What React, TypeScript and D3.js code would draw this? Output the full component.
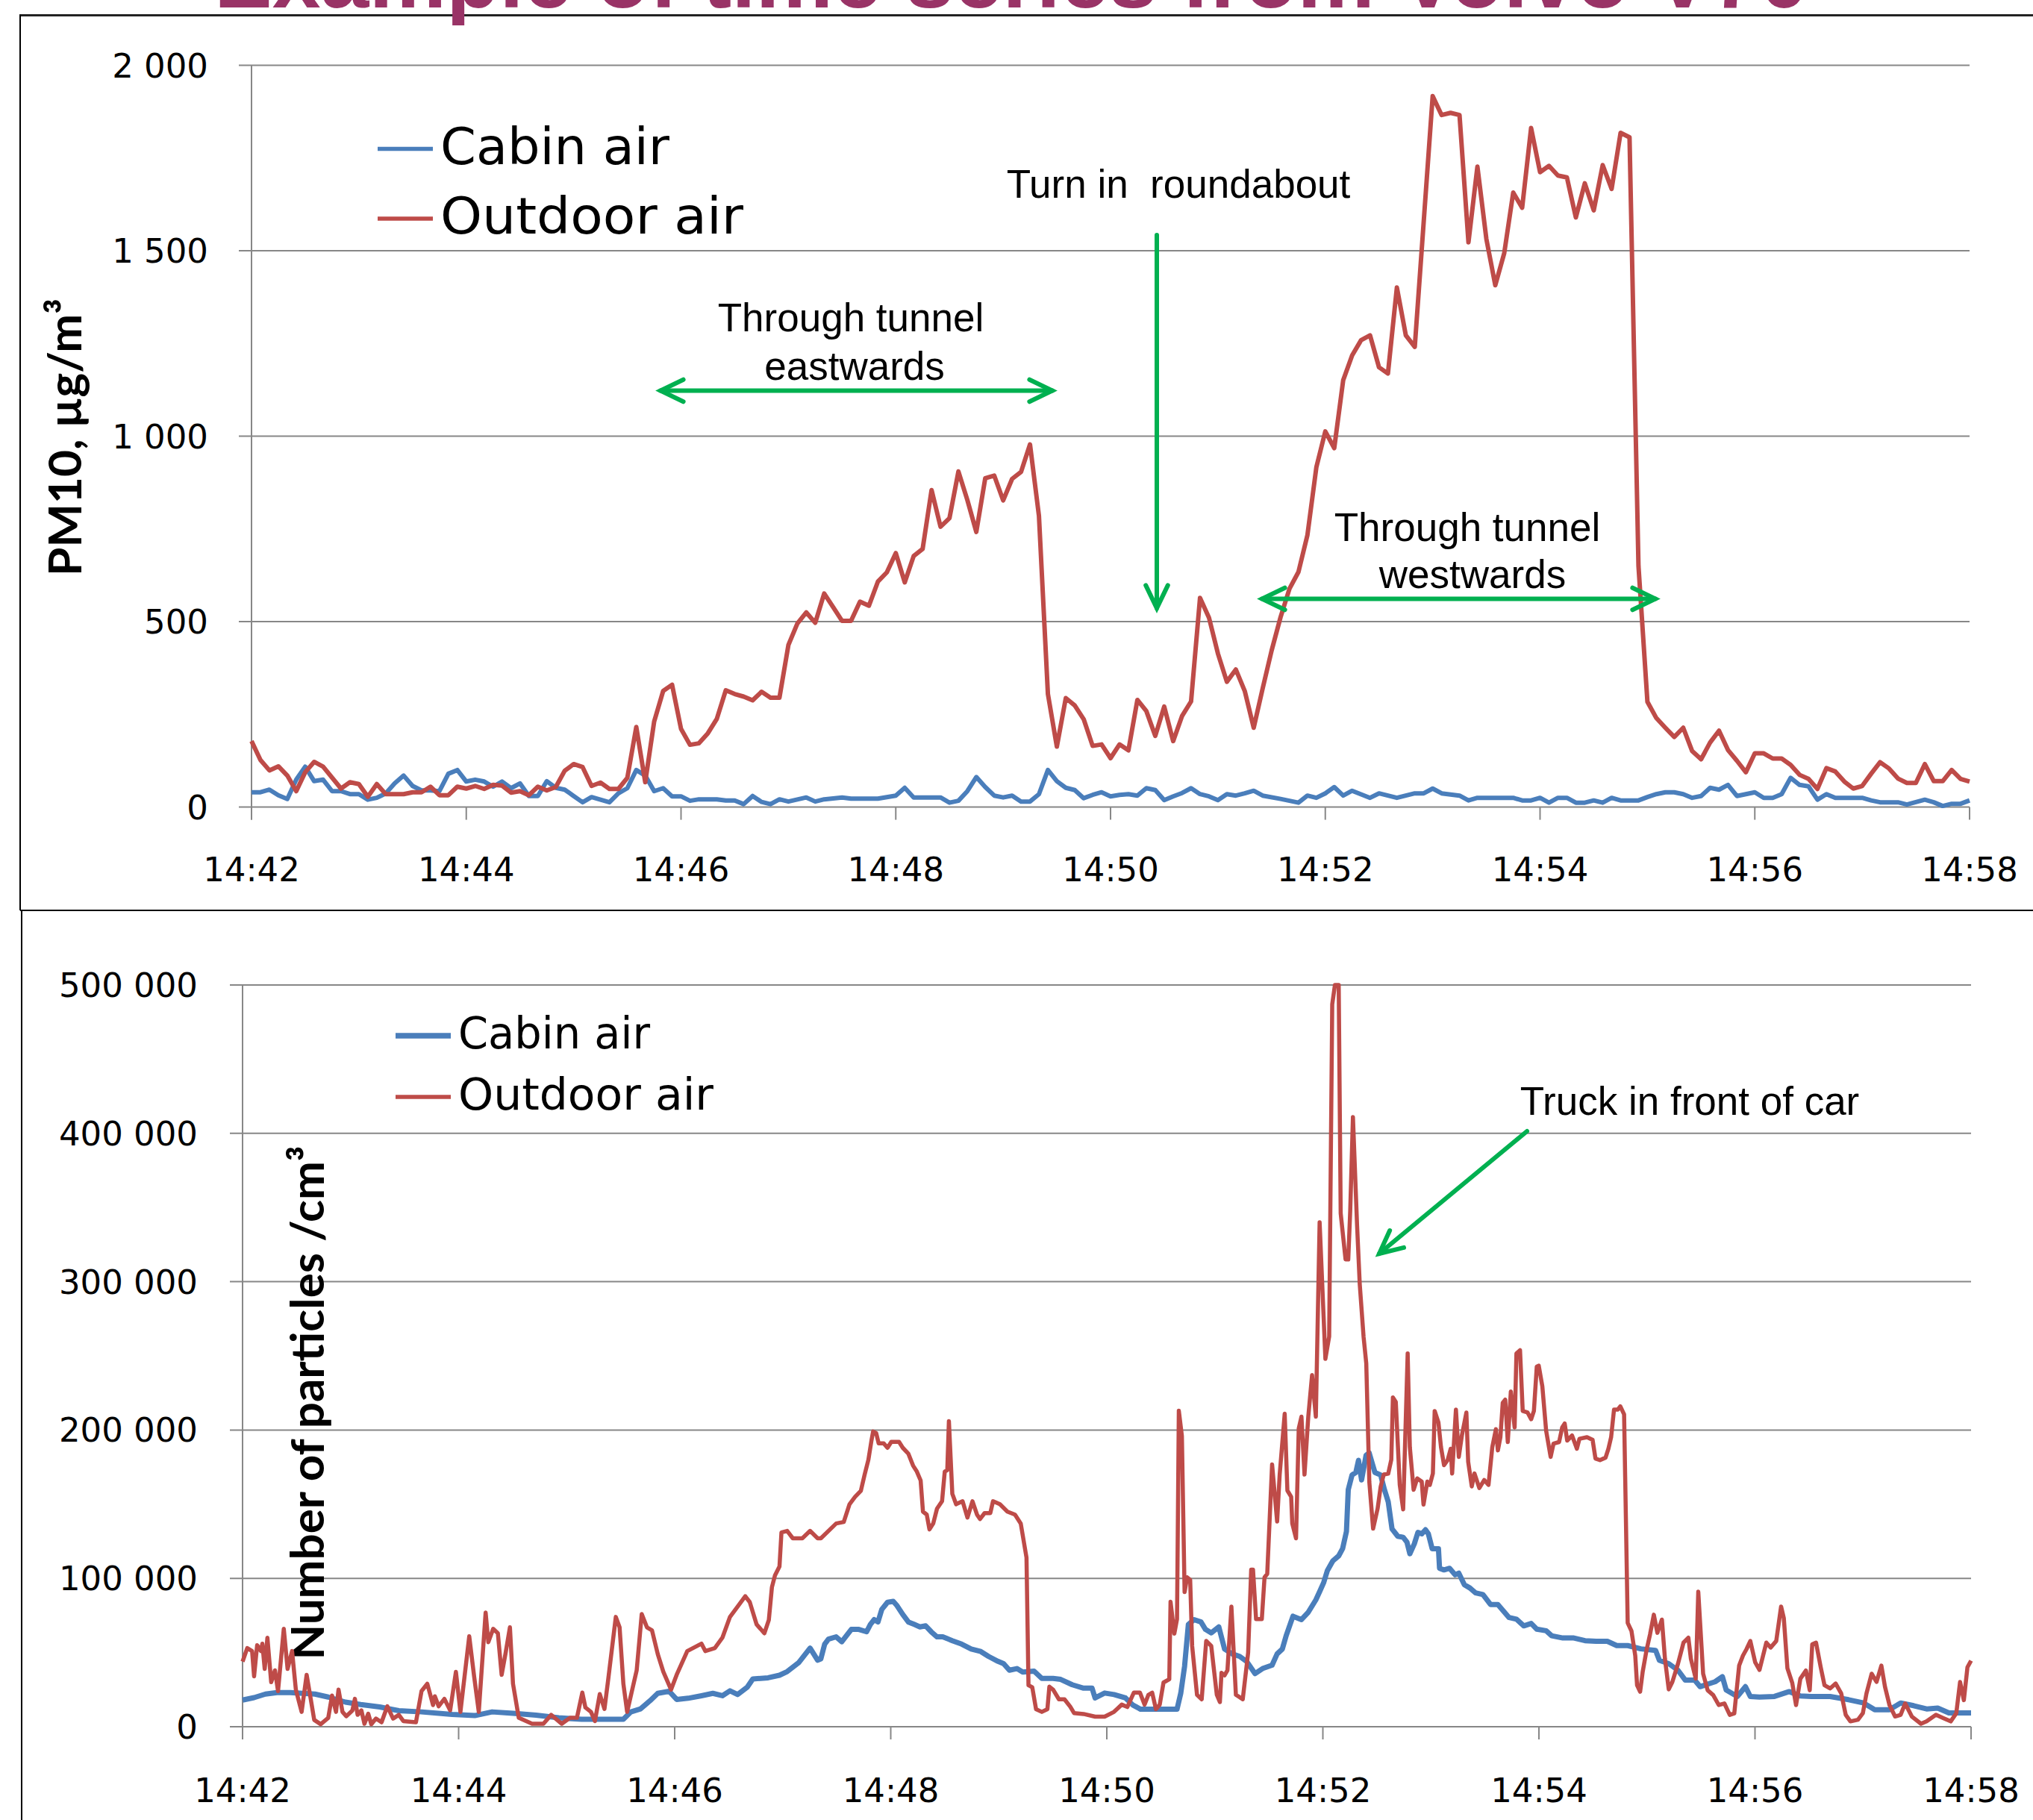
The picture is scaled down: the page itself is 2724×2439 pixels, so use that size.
import React from "react";
import * as d3 from "d3";

// colours
const blue = "#4A7EBB";
const red = "#BE4B48";
const green = "#00B050";
const grid = "#878787";

// seconds after 14:42
const timeTicks = [0, 120, 240, 360, 480, 600, 720, 840, 960];
const timeLabels = ["14:42", "14:44", "14:46", "14:48", "14:50", "14:52", "14:54", "14:56", "14:58"];

const pmTicks = [0, 500, 1000, 1500, 2000];
const pmTickLabels = ["0", "500", "1 000", "1 500", "2 000"];

// particle counts in thousands
const pncTicks = [0, 100, 200, 300, 400, 500];
const pncTickLabels = ["0", "100 000", "200 000", "300 000", "400 000", "500 000"];

const seriesNames = ["Cabin air", "Outdoor air"];

// PM10, µg/m3  [seconds, value]
const pmOutdoor: [number, number][] = [
  [0, 178], [5, 127], [10, 99], [15, 110], [20, 85], [25, 43], [30, 94], [35, 122], [40, 109], [50, 50],
  [55, 67], [60, 62], [65, 28], [70, 62], [75, 35], [85, 35], [90, 40], [95, 40], [100, 55], [105, 32],
  [110, 32], [115, 55], [120, 50], [125, 57], [130, 49], [135, 60], [140, 58], [145, 39], [150, 43], [155, 32],
  [160, 55], [165, 45], [170, 54], [175, 98], [180, 116], [185, 108], [190, 57], [195, 66], [200, 49], [205, 49],
  [210, 79], [215, 216], [220, 67], [225, 231], [230, 313], [235, 330], [240, 211], [245, 168], [250, 172], [255, 199],
  [260, 238], [265, 315], [270, 305], [275, 298], [280, 288], [285, 311], [290, 295], [295, 295], [300, 437], [305, 495],
  [310, 525], [315, 497], [320, 576], [325, 539], [330, 502], [335, 502], [340, 554], [345, 543], [350, 608], [355, 633],
  [360, 685], [365, 606], [370, 677], [375, 696], [380, 855], [385, 756], [390, 779], [395, 905], [400, 828], [405, 742],
  [410, 887], [415, 894], [420, 827], [425, 885], [430, 904], [435, 978], [440, 785], [445, 305], [450, 163], [455, 294],
  [460, 274], [465, 237], [470, 165], [475, 169], [480, 132], [485, 169], [490, 153], [495, 289], [500, 259], [505, 192],
  [510, 271], [515, 178], [520, 246], [525, 285], [530, 564], [535, 511], [540, 414], [545, 338], [550, 371], [555, 313],
  [560, 214], [565, 320], [570, 422], [575, 512], [580, 589], [585, 634], [590, 733], [595, 916], [600, 1013], [605, 968],
  [610, 1151], [615, 1218], [620, 1259], [625, 1272], [630, 1186], [635, 1169], [640, 1401], [645, 1272], [650, 1241], [660, 1917],
  [665, 1866], [670, 1872], [675, 1866], [680, 1523], [685, 1727], [690, 1532], [695, 1407], [700, 1494], [705, 1657], [710, 1616],
  [715, 1831], [720, 1712], [725, 1729], [730, 1703], [735, 1698], [740, 1590], [745, 1682], [750, 1609], [755, 1731], [760, 1667],
  [765, 1818], [770, 1806], [775, 650], [780, 284], [785, 240], [790, 214], [795, 189], [800, 214], [805, 151], [810, 129],
  [815, 174], [820, 206], [825, 154], [830, 125], [835, 94], [840, 145], [845, 145], [850, 131], [855, 131], [860, 114],
  [865, 87], [870, 76], [875, 49], [880, 105], [885, 96], [890, 69], [895, 50], [900, 57], [905, 90], [910, 121],
  [915, 104], [920, 77], [925, 65], [930, 65], [935, 116], [940, 70], [945, 70], [950, 100], [955, 76], [960, 69],
];

const pmCabin: [number, number][] = [
  [0, 40], [5, 40], [10, 47], [15, 32], [20, 22], [25, 74], [30, 109], [35, 70], [40, 74], [45, 43],
  [50, 43], [55, 35], [60, 35], [65, 20], [70, 25], [75, 37], [80, 64], [85, 85], [90, 57], [95, 45],
  [100, 45], [105, 43], [110, 90], [115, 100], [120, 69], [125, 74], [130, 69], [135, 55], [140, 69], [145, 51],
  [150, 64], [155, 30], [160, 30], [165, 70], [170, 52], [175, 47], [180, 30], [185, 13], [190, 27], [200, 13],
  [205, 37], [210, 51], [215, 100], [220, 85], [225, 43], [230, 51], [235, 29], [240, 29], [245, 17], [250, 21],
  [260, 21], [265, 18], [270, 18], [275, 8], [280, 30], [285, 14], [290, 8], [295, 21], [300, 15], [310, 26],
  [315, 15], [320, 21], [330, 26], [335, 23], [350, 23], [360, 31], [365, 52], [370, 26], [385, 26], [390, 12],
  [395, 17], [400, 43], [405, 81], [410, 54], [415, 31], [420, 26], [425, 31], [430, 15], [435, 15], [440, 35],
  [445, 100], [450, 70], [455, 52], [460, 46], [465, 24], [470, 33], [475, 40], [480, 29], [485, 33], [490, 35],
  [495, 31], [500, 51], [505, 46], [510, 19], [515, 29], [520, 38], [525, 51], [530, 35], [535, 29], [540, 19],
  [545, 35], [550, 31], [555, 37], [560, 44], [565, 31], [575, 22], [585, 12], [590, 31], [595, 25], [600, 37],
  [605, 54], [610, 31], [615, 44], [625, 25], [630, 37], [640, 25], [650, 37], [655, 37], [660, 50], [665, 37],
  [675, 31], [680, 18], [685, 25], [705, 25], [710, 18], [715, 18], [720, 25], [725, 12], [730, 25], [735, 25],
  [740, 12], [745, 12], [750, 18], [755, 12], [760, 25], [765, 18], [775, 18], [780, 27], [785, 35], [790, 40],
  [795, 40], [800, 35], [805, 25], [810, 30], [815, 52], [820, 47], [825, 60], [830, 30], [835, 35], [840, 40],
  [845, 25], [850, 25], [855, 35], [860, 79], [865, 60], [870, 56], [875, 20], [880, 35], [885, 25], [900, 25],
  [905, 18], [910, 13], [920, 13], [925, 7], [935, 20], [940, 13], [945, 3], [950, 9], [955, 9], [960, 18],
];

// number of particles /cm3, thousands  [seconds, value]
const pncOutdoor: [number, number][] = [
  [0, 43.9], [2.6, 53], [5.3, 51], [6.4, 34], [8.1, 55], [10.2, 51], [11, 56], [12.3, 39], [13.8, 60], [15.9, 30],
  [18, 38], [19.7, 24], [22.9, 66], [25, 39], [27.5, 51], [29.6, 25], [32.8, 10], [35.6, 35], [38.1, 17], [39.8, 4.6],
  [43.4, 1.7], [47.6, 6], [49.7, 21], [51.9, 10], [53.3, 25], [55.5, 10], [57.6, 7.1], [61, 11], [62.4, 18.8], [63.9, 8],
  [66, 11], [67.7, 2], [69.8, 8.8], [71.5, 1.7], [74.1, 5.5], [77.2, 3], [80.4, 13.8], [83.6, 5.5], [86.8, 8], [89.3, 3.8],
  [96.3, 3], [99.4, 24], [102.6, 29], [105.8, 14.6], [106.8, 20.5], [108.9, 13.8], [112.1, 18.8], [115.3, 11], [118.5, 37], [121, 10],
  [125.9, 61], [128.6, 34], [131.2, 10], [135, 77], [136.5, 57], [139.2, 66], [141.8, 63], [143.9, 35], [146, 49], [148.5, 67],
  [150.2, 29], [153.4, 6], [160.8, 2], [167.1, 2], [171.4, 8], [177.3, 2], [181.9, 6], [185.7, 6], [188.7, 23], [190.4, 13],
  [193.5, 10], [195.7, 3.8], [198.4, 22], [201, 12], [203.1, 32], [207.3, 74], [209.4, 67], [211.5, 29], [213.6, 10], [216.8, 27],
  [218.9, 38], [221.7, 76], [224.6, 67], [227.4, 65], [230.6, 49], [233.7, 37], [238, 25], [241.1, 35], [247, 51], [254.9, 56],
  [257, 51], [262.3, 53], [266.5, 60], [270.7, 74], [275, 81], [279.2, 88], [281.7, 84], [285.5, 69], [289.8, 63], [292.3, 72],
  [294, 94], [295.7, 102], [298.2, 108], [299.3, 131], [302.5, 132], [305.6, 127], [310.9, 127], [315.2, 132], [319.4, 127],
  [321.2, 127], [329.7, 137], [333.9, 138], [337.1, 150], [340.2, 155], [343.4, 159], [345.5, 170], [347.6, 180], [349.3, 193], [350.2, 199],
  [351.9, 198], [353.3, 191], [356.1, 191], [358.2, 188], [360.3, 192], [364.6, 192], [366.7, 188], [369.8, 184], [372.4, 176], [374.5, 172],
  [376.6, 166], [377.9, 145], [380, 143], [381.5, 133], [383.6, 137], [385.7, 147], [388.5, 152], [390, 172], [391.4, 173], [392.3, 206],
  [394.2, 157], [396.3, 150], [399.9, 152], [402.6, 141], [405.4, 152], [407.9, 143], [409.6, 140], [412.1, 144], [415.3, 144], [416.8, 152],
  [420.6, 150], [424.8, 145], [429, 143], [432.2, 137], [435.4, 114], [436.5, 28], [438.6, 26.6], [440.7, 11.8], [443.9, 10], [447, 11.8],
  [448.1, 27], [450.2, 25], [453.4, 18.5], [456.5, 18.5], [459.7, 13.5], [461.8, 9.2], [467.1, 8.6], [473.5, 6.8], [478.8, 6.8], [484, 10],
  [488.3, 14.9], [491.4, 13.3], [495, 23], [498.4, 23], [501, 14.9], [503.1, 21.5], [505.2, 23], [507.3, 11.8], [509.4, 14.9], [511.5, 29.8],
  [514.7, 32], [515.4, 84.2], [517.5, 62.7], [519, 72.6], [520, 213], [521.7, 196], [523.2, 90.8], [524.6, 100.7], [526.3, 99], [527.4, 54.5],
  [530.1, 21.5], [532.7, 18.5], [535.2, 57.8], [538, 54.5], [541.1, 21.5], [542.8, 16.6], [543.7, 36.3], [545.4, 34.6], [547, 38], [549.2, 81],
  [551.7, 21.5], [553.8, 19.9], [555.5, 18.5], [558.5, 49.9], [560.2, 105.9], [561.2, 105.9], [562.9, 72.6], [566.1, 72.6], [567.6, 100.7], [569.1, 103],
  [571.8, 176.8], [574.6, 138.3], [576, 169.7], [578.8, 211], [580.3, 159.2], [582.4, 155], [583, 137], [585.1, 127], [586.6, 201], [588.1, 209],
  [589.8, 170], [591.9, 209], [594, 237], [596.1, 209], [598.2, 340], [601.4, 248], [603.5, 263], [605.2, 487], [606.7, 500], [608.8, 500],
  [609.9, 346], [612.6, 315], [614.1, 315], [615.2, 348], [616.7, 411], [619, 338], [620.5, 298], [622.6, 263], [624.1, 245], [625.8, 165],
  [627.9, 133.5], [630.4, 147], [632.1, 161.8], [633.8, 170], [636.3, 170.6], [638, 180], [638.9, 222], [640.5, 219], [642.7, 163],
  [644.6, 146.5], [647.1, 251.6], [648.3, 188.5], [650.4, 159.7], [652.4, 167.4], [654.9, 165.2], [655.9, 149.8], [658, 165.2], [659.4, 163], [661.1, 170.7],
  [662.1, 212.8], [664.2, 205], [665.6, 188.5], [667.3, 176.3], [669.3, 179.7], [671, 187.4], [671.8, 170.7], [673.9, 213.8], [675.5, 181.9], [677.2, 196.3],
  [679.7, 211.8], [680.7, 178.6], [682.7, 162], [684.2, 170.7], [686.9, 160.9], [689.6, 166.3], [692, 163], [694.1, 188.5], [696.1, 200.6], [697.2, 186.3],
  [698.6, 195.2], [699.9, 218.3], [701.3, 220.5], [702.7, 191.9], [704.4, 226], [706.5, 201.7], [707.5, 251.6], [709.5, 253.8], [711, 212.8], [713.7, 211.8],
  [715.7, 207.3], [717.2, 212.8], [718.8, 242.7], [719.9, 243.4], [721.9, 229.4], [724, 199.6], [726.5, 181.9], [728.1, 190.8], [731.2, 191.9], [732.9, 201.7],
  [734.3, 204.4], [735.7, 192.9], [738.4, 196.3], [741.1, 187.4], [742.5, 194.1], [746.7, 195.2], [749.8, 193.4], [751.4, 180.8], [753.9, 179.7], [757, 181.4],
  [758.6, 187.4], [760.1, 195.2], [761.7, 213.8], [763.8, 213.8], [765.2, 216], [767.3, 210.6], [767.9, 168.5], [769.3, 70], [771.4, 64.5], [773.5, 47.9],
  [774.5, 28], [776.2, 23.6], [777.6, 36.8], [779.7, 51.2], [781.7, 62.2], [783.8, 75.5], [785.8, 63.3], [788.3, 72.2], [790, 45.7], [792.1, 25.2],
  [794.1, 30.2], [797.2, 42.3], [800.3, 56.7], [803, 60], [804.4, 45.7], [807.1, 32.4], [808.5, 91], [811.2, 35.7], [813.7, 24.6], [816.8, 21.3],
  [819.9, 14.6], [823, 15.7], [826, 8], [828.5, 9], [831.2, 41.2], [833.3, 47.9], [835.3, 52.3], [837.4, 57.8], [840.1, 43.4], [842.5, 38.3],
  [846.3, 56.7], [848.7, 53.4], [851.8, 57.8], [854.5, 81], [856, 73.3], [858, 39.4], [860.7, 29.5], [862.8, 14.6], [865.2, 32.4], [868.3, 37.9],
  [870.4, 24.6], [871.8, 55.6], [873.9, 56.7], [876.5, 40.1], [878.6, 28], [881.7, 25.8], [884.8, 29.1], [887.9, 22.4], [890.4, 8], [893, 3.6],
  [897.2, 4.7], [899.9, 9.1], [901.9, 22.4], [904.8, 35.7], [907.5, 30.2], [910.2, 41.2], [912.2, 26.9], [914.7, 14.6], [917.8, 6.9], [920.9, 8],
  [923.4, 15.7], [927.1, 6.9], [932.2, 2], [935.3, 3.6], [940.5, 8], [944.6, 5.8], [948.7, 3.6], [951.8, 9.1], [953.9, 30.2], [956, 17.9],
  [958, 40.1], [960, 44.5],
];

const pncCabin: [number, number][] = [
  [0, 18], [6.4, 19.6], [12.7, 22], [19.1, 23], [26.5, 23], [40.2, 22], [47.6, 20], [57.1, 16.6], [65.6, 15], [76.2, 13.3],
  [86.8, 10.8], [99.4, 10], [116.4, 8.3], [129, 7.5], [138.6, 10], [150.2, 9.1], [163, 7.8], [175.6, 6], [188.3, 5], [211.5, 5],
  [215.7, 10], [221, 12], [226.3, 17.5], [230.6, 22.5], [236.9, 23.9], [241.1, 18.4], [247.5, 19.2], [254.9, 20.9], [261.2, 22.5], [266.5, 20.9],
  [270.7, 24.2], [275, 21.7], [280.3, 26.7], [283.4, 32.2], [291.9, 33], [298.2, 34.7], [302.5, 37.2], [308.8, 43.1], [315.2, 53], [319.4, 44.8],
  [321.2, 45.8], [323.3, 55.7], [325.4, 59], [329.7, 60.6], [332.8, 57.3], [336, 62.3], [338.1, 65.6], [342.3, 65.6], [346.6, 64], [348.7, 69],
  [350.8, 72.2], [352.9, 70.6], [355, 79], [358.2, 83.9], [361.4, 84.5], [363.5, 81.6], [366.7, 75.6], [369.8, 70.6], [373, 69], [376.2, 67.3],
  [379.4, 68], [382.5, 64], [385.7, 60.6], [388.9, 60.6], [394.2, 58], [399.4, 55.7], [404.7, 52.4], [410, 50.7], [414.3, 47.4], [419.5, 44.1],
  [422.7, 42.5], [425.9, 38.1], [430.1, 39.2], [433.3, 36.9], [439.6, 37.5], [443.9, 32.6], [450.2, 32.6], [454.4, 31.9], [460.8, 28.3], [467.1, 26],
  [471.8, 26], [473.5, 19.4], [478.8, 22.7], [484, 21.7], [490.4, 19.4], [494.6, 14.5], [498.8, 11.8], [505.2, 11.8], [519, 11.8], [521.1, 22.7],
  [523.2, 40.8], [525.3, 69], [528.5, 72.2], [532.3, 70.6], [534.8, 65.6], [538, 63.3], [542.2, 67.3], [545.4, 52.4], [549.6, 49.1], [553.8, 47.4],
  [557.6, 44.1], [562.3, 35.8], [566.5, 39.2], [571.8, 41.5], [574.6, 49.1], [577.5, 52.4], [579.6, 61.3], [583.4, 74.5], [588.1, 72.2], [591.9, 77.2],
  [596.1, 85.5], [598.2, 91], [600.4, 97], [602.5, 105.3], [605.6, 111.9], [608.8, 115.2], [611, 120.2], [613.1, 131.7], [614.1, 159.8], [616.2, 169.7],
  [618.3, 171.4], [619.8, 179.6], [621.5, 166.4], [624, 183], [625.7, 184.6], [628.9, 171.4], [632.1, 169.7], [634.2, 159.8], [636.3, 151.6], [638.4, 133.4],
  [641.6, 128.4], [644.6, 127.7], [646.7, 124.4], [648.3, 116.6], [650.8, 123.3], [652.8, 131], [654.9, 130], [657, 132.8], [658.6, 130], [660.7, 120],
  [664.2, 120], [664.8, 106.8], [667.3, 105.7], [670.4, 106.8], [673.5, 102.4], [675.5, 103.5], [678.6, 95.7], [681.7, 93.5], [684.8, 90.2], [688.9, 89.1],
  [693.1, 82.4], [697.2, 82.4], [700.3, 78], [703.4, 73.6], [707.5, 72.5], [711.6, 68], [715.7, 69.6], [718.8, 65.8], [724, 64.7], [727.1, 61.3],
  [733.3, 59.8], [739.4, 59.8], [745.6, 58], [751.8, 57.6], [758, 57.6], [763.2, 54.7], [769.3, 54.7], [776.6, 52.5], [784.8, 51.4], [786.9, 44.8],
  [792.1, 42.5], [797.2, 38.1], [801.3, 31.4], [806.5, 31.4], [809.5, 27], [817.8, 30.3], [821.9, 33.7], [824, 24.8], [830.2, 20.4], [834.7, 27],
  [837.4, 20.4], [842.5, 20], [850.8, 20.4], [859, 23.7], [865.2, 20.8], [871.4, 20.4], [881.7, 20.4], [892, 18.2], [900.3, 16], [906.5, 11.5],
  [914.7, 11.5], [920.9, 16], [928.1, 14.2], [935.3, 12], [941.5, 12.6], [947.7, 9.3], [953.9, 9.3], [960, 9.3],
];

const tickFont = "'DejaVu Sans', Verdana, sans-serif";
const noteFont = "'Liberation Sans', Arial, sans-serif";
const titleFont = "Lato, 'Open Sans', sans-serif";

// open chevron arrow head(s) on a green line
function Arrow({ x1, y1, x2, y2, both = false }) {
  const head = (tx, ty, fx, fy) => {
    const a = Math.atan2(ty - fy, tx - fx);
    const len = 34, spread = 0.45;
    const p1 = [tx - len * Math.cos(a - spread), ty - len * Math.sin(a - spread)];
    const p2 = [tx - len * Math.cos(a + spread), ty - len * Math.sin(a + spread)];
    return `M${p1[0]},${p1[1]}L${tx},${ty}L${p2[0]},${p2[1]}`;
  };
  return (
    <g stroke={green} strokeWidth={6} fill="none" strokeLinecap="round" strokeLinejoin="miter">
      <line x1={x1} y1={y1} x2={x2} y2={y2} />
      <path d={head(x2, y2, x1, y1)} />
      {both && <path d={head(x1, y1, x2, y2)} />}
    </g>
  );
}

function Panel({ left, right, top, bottom, yMax, yTicks, yLabels, labelRight, xLabelY, cabin, outdoor, cabinWidth, outdoorWidth, children }) {
  const x = d3.scaleLinear().domain([0, 960]).range([left, right]);
  const y = d3.scaleLinear().domain([0, yMax]).range([bottom, top]);
  const line = d3.line<[number, number]>().x(d => x(d[0])).y(d => y(d[1]));

  return (
    <g>
      {yTicks.map((t, i) => (
        <g key={t}>
          <line x1={left - 17} x2={right} y1={y(t)} y2={y(t)} stroke={grid} strokeWidth={2} />
          <text x={labelRight} y={y(t) + 16} textAnchor="end" fontFamily={tickFont} fontSize={45} fill="#000">
            {yLabels[i]}
          </text>
        </g>
      ))}
      <line x1={left} x2={left} y1={top} y2={bottom + 17} stroke={grid} strokeWidth={2} />
      {timeTicks.map((t, i) => (
        <g key={t}>
          <line x1={x(t)} x2={x(t)} y1={bottom} y2={bottom + 17} stroke={grid} strokeWidth={2} />
          <text x={x(t)} y={xLabelY} textAnchor="middle" fontFamily={tickFont} fontSize={45} fill="#000">
            {timeLabels[i]}
          </text>
        </g>
      ))}
      {children}
      <path d={line(cabin)} fill="none" stroke={blue} strokeWidth={cabinWidth} strokeLinejoin="round" />
      <path d={line(outdoor)} fill="none" stroke={red} strokeWidth={outdoorWidth} strokeLinejoin="round" />
    </g>
  );
}

function Legend({ x, y1, y2, size, w1, w2, len1, len2 }) {
  return (
    <g fontFamily={tickFont} fontSize={size} fill="#000">
      <line x1={x} x2={x + 74} y1={y1} y2={y1} stroke={blue} strokeWidth={w1} />
      <text x={x + 84} y={y1 + size * 0.3} textLength={len1} lengthAdjust="spacingAndGlyphs">{seriesNames[0]}</text>
      <line x1={x} x2={x + 74} y1={y2} y2={y2} stroke={red} strokeWidth={w2} />
      <text x={x + 84} y={y2 + size * 0.3} textLength={len2} lengthAdjust="spacingAndGlyphs">{seriesNames[1]}</text>
    </g>
  );
}

export default function App() {
  return (
    <div style={{ position: "absolute", left: 0, top: 0 }}>
      <svg width={2724} height={2439} style={{ display: "block", background: "#fff" }}>
        {/* slide frame */}
        <line x1={26} x2={2724} y1={20.5} y2={20.5} stroke="#222" strokeWidth={3} />
        <line x1={27} x2={27} y1={20} y2={1220} stroke="#000" strokeWidth={2} />
        <line x1={27} x2={2724} y1={1220} y2={1220} stroke="#000" strokeWidth={2} />
        <line x1={29} x2={29} y1={1220} y2={2439} stroke="#000" strokeWidth={2} />

        {/* slide title, cut by the top edge as in the reference */}
        <text x={287} y={10} fontFamily={noteFont} fontWeight="bold" fontSize={116} fill="#993366" textLength={2136} lengthAdjust="spacingAndGlyphs">
          Example of time series from Volvo V70
        </text>

        {/* PM10 panel */}
        <Panel left={337} right={2639} top={87.6} bottom={1081.6} yMax={2000} yTicks={pmTicks} yLabels={pmTickLabels}
          labelRight={279} xLabelY={1181} cabin={pmCabin} outdoor={pmOutdoor} cabinWidth={6} outdoorWidth={6}>
          <text transform="rotate(-90 109 586)" x={109} y={586} textAnchor="middle" fontFamily={titleFont} fontWeight="bold" fontSize={62} fill="#000">
            PM10, µg/m³
          </text>
        </Panel>
        <Legend x={506} y1={199.5} y2={293} size={68} w1={5.5} w2={5.5} len1={307} len2={406} />
        <g fontFamily={noteFont} fontSize={53} fill="#000" textAnchor="middle">
          <text x={1579} y={265} xmlSpace="preserve" style={{ whiteSpace: "pre" }}>Turn in  roundabout</text>
          <text x={1140} y={444}>Through tunnel</text>
          <text x={1145} y={509}>eastwards</text>
          <text x={1966} y={725}>Through tunnel</text>
          <text x={1973} y={788}>westwards</text>
        </g>
        <Arrow x1={1550} y1={315} x2={1550} y2={815} />
        <Arrow x1={885} y1={523.5} x2={1410} y2={523.5} both />
        <Arrow x1={1691} y1={802.5} x2={2218} y2={802.5} both />

        {/* particle number panel */}
        <Panel left={325} right={2641} top={1320} bottom={2314} yMax={500} yTicks={pncTicks} yLabels={pncTickLabels}
          labelRight={265} xLabelY={2415} cabin={pncCabin} outdoor={pncOutdoor} cabinWidth={7} outdoorWidth={5.5}>
          <text transform="rotate(-90 434 1880)" x={434} y={1880} textAnchor="middle" fontFamily={titleFont} fontWeight="bold" fontSize={62} fill="#000">
            Number of particles /cm³
          </text>
        </Panel>
        <Legend x={530} y1={1388} y2={1470} size={58} w1={7.5} w2={5.5} len1={257} len2={342} />
        <text x={2264} y={1494} textAnchor="middle" fontFamily={noteFont} fontSize={53} fill="#000">Truck in front of car</text>
        <Arrow x1={2046} y1={1516} x2={1848} y2={1680} />
      </svg>
    </div>
  );
}
